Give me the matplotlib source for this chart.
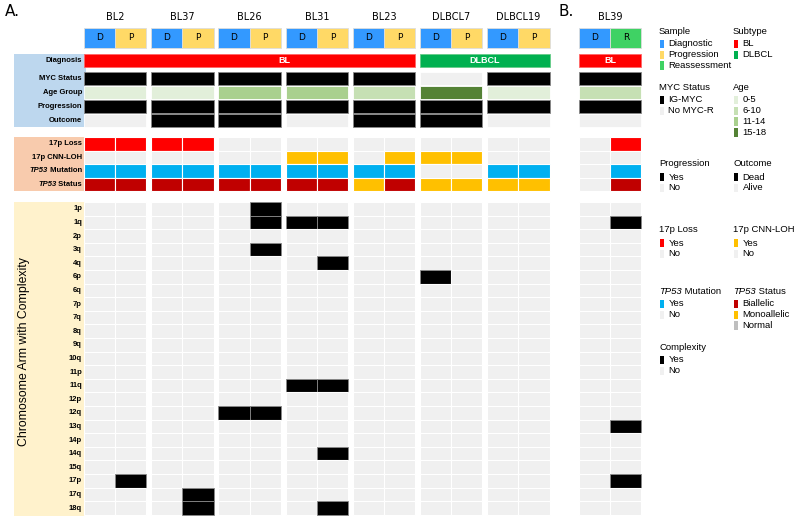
import matplotlib.pyplot as plt
from matplotlib.patches import Rectangle

# ---- data ----
patients_a = ["BL2", "BL37", "BL26", "BL31", "BL23", "DLBCL7", "DLBCL19"]
patients_b = ["BL39"]
samples_a = ["D", "P"]
samples_b = ["D", "R"]

subtype = ["BL", "BL", "BL", "BL", "BL", "DLBCL", "DLBCL", "BL"]
myc = ["IG-MYC", "IG-MYC", "IG-MYC", "IG-MYC", "IG-MYC", "No MYC-R", "IG-MYC", "IG-MYC"]
age = ["0-5", "0-5", "11-14", "11-14", "6-10", "15-18", "0-5", "6-10"]
progression = ["Yes"] * 8
outcome = ["Alive", "Dead", "Dead", "Alive", "Dead", "Dead", "Alive", "Alive"]

# per sample (16 columns: 7 patients x 2 in A, then BL39 x 2 in B)
loss17p = [1, 1, 1, 1, 0, 0, 0, 0, 0, 0, 0, 0, 0, 0, 0, 1]
cnloh17p = [0, 0, 0, 0, 0, 0, 1, 1, 0, 1, 1, 1, 0, 0, 0, 0]
tp53_mut = [1, 1, 1, 1, 1, 1, 1, 1, 1, 1, 0, 0, 1, 1, 0, 1]
tp53_status = ["Bi", "Bi", "Bi", "Bi", "Bi", "Bi", "Bi", "Bi", "Mono", "Bi",
               "Mono", "Mono", "Mono", "Mono", "None", "Bi"]

arms = ["1p", "1q", "2p", "3q", "4q", "6p", "6q", "7p", "7q", "8q", "9q", "10q",
        "11p", "11q", "12p", "12q", "13q", "14p", "14q", "15q", "17p", "17q", "18q"]
# arm -> sample columns with complexity
complex_cols = {
    "1p": [5], "1q": [5, 6, 7, 15], "3q": [5], "4q": [7], "6p": [10],
    "11q": [6, 7], "12q": [4, 5], "13q": [15], "14q": [7],
    "17p": [1, 15], "17q": [3], "18q": [3, 7],
}

# ---- colours ----
GREY = "#f0f0f0"
C_SAMPLE = {"D": "#3399ff", "P": "#ffd966", "R": "#3fd264"}
C_SUB = {"BL": "#ff0000", "DLBCL": "#00b050"}
C_MYC = {"IG-MYC": "black", "No MYC-R": GREY}
C_AGE = {"0-5": "#e2efda", "6-10": "#c6e0b4", "11-14": "#a9d08e", "15-18": "#548235"}
C_YES = {"Yes": "black", "No": GREY}
C_OUT = {"Dead": "black", "Alive": GREY}
C_TP53 = {"Bi": "#c00000", "Mono": "#ffc000", "None": GREY}

# ---- layout (pixels) ----
CW = 31.2
pat_x = [84, 151.2, 218.4, 285.6, 352.8, 420, 487.2, 579]
fig = plt.figure(figsize=(8, 5.23), dpi=100)
ax = fig.add_axes([0, 0, 1, 1])
ax.set_xlim(0, 800)
ax.set_ylim(523, 0)
ax.axis("off")


def rect(x, y, w, h, fc, ec="white", lw=0.8, **kw):
    ax.add_patch(Rectangle((x, y), w, h, facecolor=fc, edgecolor=ec, linewidth=lw, **kw))


def col_x(c):
    return pat_x[c // 2] + (c % 2) * CW


LAB = dict(fontsize=5.5, fontweight="bold", ha="right", va="center", family="Liberation Sans")

# panel labels
ax.text(5, 12, "A.", fontsize=11, va="center", family="DejaVu Sans")
ax.text(559, 12, "B.", fontsize=11, va="center", family="DejaVu Sans")

# section boxes
rect(14, 54, 72, 73, "#bdd7ee", ec="none")
rect(14, 137, 72, 54, "#f8cbad", ec="none")
rect(14, 202, 72, 314, "#fff2cc", ec="none")

# headers + sample boxes
names = patients_a + patients_b
for i, name in enumerate(names):
    x = pat_x[i]
    ax.text(x + CW, 17, name, ha="center", va="center", fontsize=7, family="DejaVu Sans")
    samp = samples_b if i == 7 else samples_a
    for j, s in enumerate(samp):
        rect(x + j * CW, 28, CW, 19.5, C_SAMPLE[s], ec="#dddddd", lw=0.6)
        ax.text(x + j * CW + CW / 2, 37.8, s, ha="center", va="center", fontsize=6.5,
                family="DejaVu Sans")

# diagnosis row (merged by subtype)
ax.text(82, 60.5, "Diagnosis", **LAB)
rect(pat_x[0], 54, pat_x[4] + 2 * CW - pat_x[0], 13, C_SUB["BL"], ec="#ff6666", lw=0.6)
ax.text(284, 60.5, "BL", color="white", fontsize=6.5, fontweight="bold", ha="center",
        va="center", family="Liberation Sans")
rect(pat_x[5], 54, pat_x[6] + 2 * CW - pat_x[5], 13, C_SUB["DLBCL"], ec="#66cc88", lw=0.6)
ax.text((pat_x[5] + pat_x[6] + 2 * CW) / 2, 60.5, "DLBCL", color="white", fontsize=6.5,
        fontweight="bold", ha="center", va="center", family="Liberation Sans")
rect(pat_x[7], 54, 2 * CW, 13, C_SUB["BL"], ec="#ff6666", lw=0.6)
ax.text(pat_x[7] + CW, 60.5, "BL", color="white", fontsize=6.5, fontweight="bold",
        ha="center", va="center", family="Liberation Sans")

# clinical rows (one bar per patient)
clin = [("MYC Status", myc, C_MYC), ("Age Group", age, C_AGE),
        ("Progression", progression, C_YES), ("Outcome", outcome, C_OUT)]
for r, (lab, vals, cmap) in enumerate(clin):
    y = 72 + r * 14
    ax.text(82, y + 6.5, lab, **LAB)
    for i, v in enumerate(vals):
        fc = cmap[v]
        ec = "#888888" if fc == "black" else "white"
        rect(pat_x[i], y, 2 * CW, 13.4, fc, ec=ec, lw=0.6)

# 17p / TP53 rows
genes = [(["17p Loss"], loss17p, {1: "#ff0000", 0: GREY}),
         (["17p CNN-LOH"], cnloh17p, {1: "#ffc000", 0: GREY}),
         (["TP53", " Mutation"], tp53_mut, {1: "#00b0f0", 0: GREY}),
         (["TP53", " Status"], tp53_status, C_TP53)]
for r, (lab, vals, cmap) in enumerate(genes):
    y = 137 + r * 13.5
    if len(lab) == 1:
        ax.text(82, y + 6.75, lab[0], **LAB)
    else:
        t = ax.text(82, y + 6.75, lab[1], **LAB)
        fig.canvas.draw()
        bb = t.get_window_extent()
        ax.text(bb.x0 / fig.dpi * 100, y + 6.75, lab[0], fontstyle="italic",
                **LAB)
    for c, v in enumerate(vals):
        rect(col_x(c), y, CW, 13.5, cmap[v])

# chromosome arms
ax.text(24, 352, "Chromosome Arm with Complexity", rotation=90, ha="center", va="center",
        fontsize=8.8, family="Liberation Sans")
for r, arm in enumerate(arms):
    y = 202 + r * 13.6
    ax.text(82, y + 6.8, arm, **LAB)
    for c in range(16):
        hit = c in complex_cols.get(arm, [])
        rect(col_x(c), y, CW, 13.6, "black" if hit else GREY,
             ec="#888888" if hit else "white", lw=0.6 if hit else 0.8)

# ---- legend ----
LEG = dict(fontsize=6.8, va="center", family="Liberation Sans")


def legend_block(x, y, title, items, italic=None):
    if italic:
        t = ax.text(x, y, italic, fontstyle="italic", **LEG)
        fig.canvas.draw()
        bb = t.get_window_extent()
        ax.text(bb.x1 / fig.dpi * 100, y, title, **LEG)
    else:
        ax.text(x, y, title, **LEG)
    for k, (lab, col) in enumerate(items):
        yy = y + 13 + k * 10.8
        rect(x + 1, yy - 4.3, 4, 8.6, col, ec="none")
        ax.text(x + 9.5, yy, lab, **LEG)


legend_block(659, 31, "Sample", [("Diagnostic", C_SAMPLE["D"]), ("Progression", C_SAMPLE["P"]),
                                 ("Reassessment", C_SAMPLE["R"])])
legend_block(733, 31, "Subtype", [("BL", C_SUB["BL"]), ("DLBCL", C_SUB["DLBCL"])])
legend_block(659, 87, "MYC Status", [("IG-MYC", "black"), ("No MYC-R", GREY)])
legend_block(733, 87, "Age", [(k, v) for k, v in C_AGE.items()])
legend_block(659, 164, "Progression", [("Yes", "black"), ("No", GREY)])
legend_block(733, 164, "Outcome", [("Dead", "black"), ("Alive", GREY)])
legend_block(659, 230, "17p Loss", [("Yes", "#ff0000"), ("No", GREY)])
legend_block(733, 230, "17p CNN-LOH", [("Yes", "#ffc000"), ("No", GREY)])
legend_block(659, 291, " Mutation", [("Yes", "#00b0f0"), ("No", GREY)], italic="TP53")
legend_block(733, 291, " Status", [("Biallelic", "#c00000"), ("Monoallelic", "#ffc000"),
                                   ("Normal", "#bfbfbf")], italic="TP53")
legend_block(659, 347, "Complexity", [("Yes", "black"), ("No", GREY)])

fig.savefig("out.png", dpi=100)
